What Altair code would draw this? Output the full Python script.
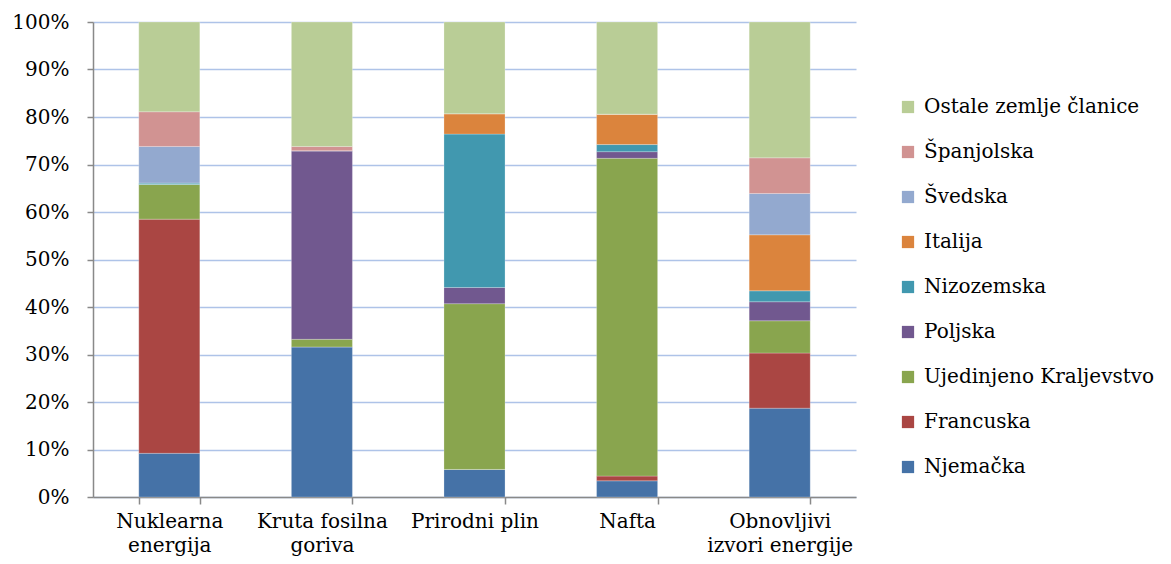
import altair as alt
import pandas as pd

categories = ["Nuklearna\nenergija", "Kruta fosilna\ngoriva", "Prirodni plin", "Nafta", "Obnovljivi\nizvori energije"]

countries = ["Njemačka", "Francuska", "Ujedinjeno Kraljevstvo", "Poljska", "Nizozemska",
             "Italija", "Švedska", "Španjolska", "Ostale zemlje članice"]

njemacka = [9.2, 31.6, 5.8, 3.4, 18.7]
francuska = [49.3, 0.0, 0.0, 1.0, 11.6]
uk = [7.3, 1.6, 34.9, 66.9, 6.8]
poljska = [0.0, 39.7, 3.4, 1.4, 4.0]
nizozemska = [0.3, 0.0, 32.3, 1.5, 2.3]
italija = [0.0, 0.0, 4.3, 6.4, 11.8]
svedska = [7.7, 0.0, 0.0, 0.0, 8.7]
spanjolska = [7.3, 0.9, 0.0, 0.0, 7.5]
ostale = [18.9, 26.2, 19.3, 19.4, 28.6]

colors = ["#4572A7", "#AA4643", "#89A54E", "#71588F", "#4198AF",
          "#DB843D", "#93A9CF", "#D19392", "#B9CD96"]

series = [njemacka, francuska, uk, poljska, nizozemska, italija, svedska, spanjolska, ostale]

rows = []
for i, (name, vals) in enumerate(zip(countries, series)):
    for cat, v in zip(categories, vals):
        rows.append({"cat": cat, "country": name, "value": v, "idx": i})
df = pd.DataFrame(rows)

FONT = "DejaVu Serif"

chart = alt.Chart(df).mark_bar(stroke="#ffffff", strokeWidth=0.4, strokeOpacity=0.6).encode(
    x=alt.X("cat:N", sort=categories,
            scale=alt.Scale(paddingInner=0.6, paddingOuter=0.3),
            axis=alt.Axis(title=None, labelAngle=0, tickBand="extent",
                          labelExpr="split(datum.label, '\\n')",
                          labelFontSize=20, labelColor="#000000",
                          labelLineHeight=24, labelPadding=7,
                          tickSize=7, tickColor="#898989", tickWidth=1.5,
                          domainColor="#898989", domainWidth=1.5, grid=False)),
    y=alt.Y("value:Q", stack="zero",
            scale=alt.Scale(domain=[0, 100], nice=False),
            axis=alt.Axis(title=None, values=list(range(0, 101, 10)),
                          labelExpr="datum.value + '%'",
                          labelFontSize=20, labelColor="#000000",
                          labelPadding=18, tickSize=6, tickColor="#898989", tickWidth=1.5,
                          domainColor="#898989", domainWidth=1.5,
                          grid=True, gridColor="#aec3e8", gridWidth=1.5)),
    color=alt.Color("country:N",
                    scale=alt.Scale(domain=countries[::-1], range=colors[::-1]),
                    legend=alt.Legend(title=None, orient="none", legendX=805, legendY=75,
                                      symbolType="square", symbolSize=150,
                                      symbolStrokeWidth=0, symbolOpacity=1,
                                      labelFontSize=20, labelColor="#000000",
                                      labelOffset=6, rowPadding=25, labelLimit=400)),
    order=alt.Order("idx:Q", sort="ascending"),
).properties(
    width=763, height=475,
    autosize=alt.AutoSizeParams(type="none"),
    padding={"left": 85, "top": 14, "right": 299, "bottom": 59},
).configure(
    font=FONT
).configure_axis(
    labelFont=FONT
).configure_legend(
    labelFont=FONT
).configure_view(stroke=None)

chart.save("out.html", embed_options={"renderer": "svg", "actions": False})
